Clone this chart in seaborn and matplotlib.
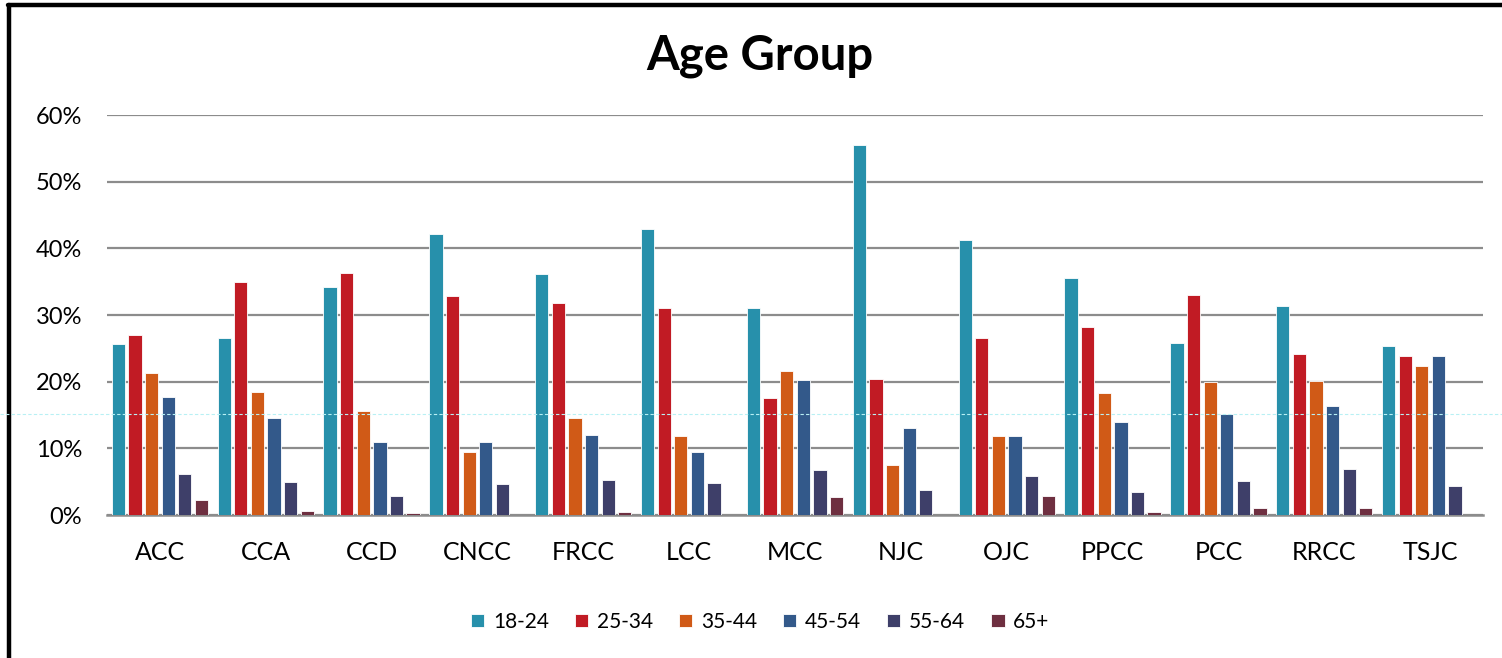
import numpy as np
import pandas as pd
import matplotlib
matplotlib.use("Agg")
import matplotlib.pyplot as plt
from matplotlib.lines import Line2D
from matplotlib.ticker import PercentFormatter
import seaborn as sns

colleges = ["ACC", "CCA", "CCD", "CNCC", "FRCC", "LCC", "MCC",
            "NJC", "OJC", "PPCC", "PCC", "RRCC", "TSJC"]
age_groups = ["18-24", "25-34", "35-44", "45-54", "55-64", "65+"]

age_18_24 = [25.7, 26.6, 34.2, 42.2, 36.2, 42.9, 31.1, 55.5, 41.2, 35.5, 25.8, 31.3, 25.4]
age_25_34 = [27.0, 34.9, 36.3, 32.8, 31.8, 31.0, 17.6, 20.4, 26.5, 28.2, 33.0, 24.2, 23.9]
age_35_44 = [21.3, 18.5, 15.6, 9.4, 14.5, 11.9, 21.6, 7.5, 11.8, 18.3, 20.0, 20.1, 22.4]
age_45_54 = [17.7, 14.5, 11.0, 11.0, 12.0, 9.5, 20.3, 13.0, 11.8, 14.0, 15.1, 16.3, 23.9]
age_55_64 = [6.2, 5.0, 2.8, 4.7, 5.2, 4.8, 6.8, 3.7, 5.9, 3.5, 5.1, 6.9, 4.4]
age_65_up = [2.2, 0.6, 0.3, 0.0, 0.4, 0.0, 2.7, 0.0, 2.9, 0.4, 1.0, 1.0, 0.0]

palette = ["#2790AB", "#C11B24", "#D05A17", "#33598A", "#3E3F69", "#6E2F40"]

series = [age_18_24, age_25_34, age_35_44, age_45_54, age_55_64, age_65_up]
df = pd.DataFrame({
    "college": np.repeat([colleges], len(age_groups), axis=0).ravel(),
    "age": np.repeat(age_groups, len(colleges)),
    "share": np.concatenate(series) / 100.0,
})

sns.set_theme(style="white")
plt.rcParams["font.family"] = ["Lato", "DejaVu Sans"]
plt.rcParams["text.color"] = "black"

fig = plt.figure(figsize=(15.02, 6.58), dpi=100)
ax = fig.add_axes([0.0712, 0.2173, 0.9162, 0.6079])

sns.barplot(data=df, x="college", y="share", hue="age", order=colleges,
            hue_order=age_groups, palette=palette, width=0.94, gap=0.2,
            edgecolor="white", linewidth=0.6, saturation=1, ax=ax, zorder=3)

ax.set_ylim(0, 0.6)
ax.set_xlim(-0.5, len(colleges) - 0.5)
ax.set_yticks(np.arange(0, 0.61, 0.1))
ax.yaxis.set_major_formatter(PercentFormatter(1.0, decimals=0))
ax.grid(axis="y", color="#8c8c8c", linewidth=1.6, zorder=0)
ax.set_axisbelow(True)
for side in ["top", "right", "left"]:
    ax.spines[side].set_visible(False)
ax.spines["bottom"].set_color("#8c8c8c")
ax.spines["bottom"].set_linewidth(1.8)
ax.tick_params(axis="both", length=0, colors="black")
ax.tick_params(axis="x", pad=19, labelsize=18)
ax.tick_params(axis="y", pad=18, labelsize=17)
ax.set_xlabel("")
ax.set_ylabel("")

fig.text(0.506, 1 - 70 / 658, "Age Group", ha="center", va="baseline",
         fontsize=34, fontweight="bold", color="black")

handles, labels = ax.get_legend_handles_labels()
ax.legend(handles, labels, loc="center", bbox_to_anchor=(0.506, 0.055),
          bbox_transform=fig.transFigure, ncol=6, frameon=False, fontsize=15,
          handlelength=0.65, handleheight=0.65, handletextpad=0.4,
          columnspacing=1.25, labelcolor="black")

# frame around the chart area
fig.add_artist(Line2D([8 / 1502, 1.0], [1 - 5 / 658, 1 - 5 / 658],
                      transform=fig.transFigure, color="black", linewidth=3.2))
fig.add_artist(Line2D([8.7 / 1502, 8.7 / 1502], [0.0, 1 - 5 / 658],
                      transform=fig.transFigure, color="black", linewidth=3.2))
# faint guide line
fig.add_artist(Line2D([0.0, 1.0], [1 - 414 / 658, 1 - 414 / 658],
                      transform=fig.transFigure, color="#b8f0f4",
                      linewidth=0.8, linestyle=(0, (3, 2)), zorder=5))

fig.savefig("out.png", dpi=100, facecolor="white")
